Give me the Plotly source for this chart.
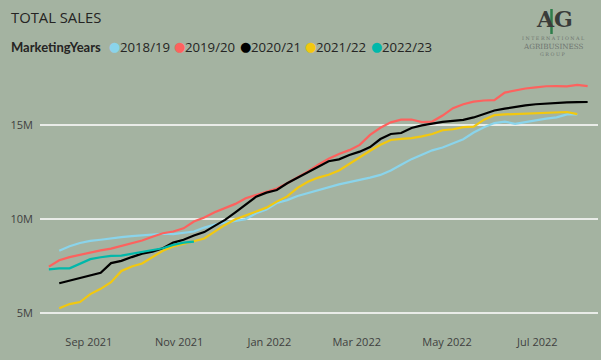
import pandas as pd
import plotly.graph_objects as go

# ---- data (values in millions) ----
week_dates = pd.date_range("2021-08-05", periods=53, freq="7D")

series_names = ["2018/19", "2019/20", "2020/21", "2021/22", "2022/23"]
series_colors = ["#8AD4EB", "#FD625E", "#000000", "#F2C80F", "#01B8AA"]

sales_2018_19 = [None, 8.31, 8.55, 8.72, 8.83, 8.89, 8.97, 9.03, 9.08, 9.12, 9.20, 9.21, 9.19, 9.25, 9.33,
                 9.54, 9.70, 9.80, 9.88, 9.98, 10.30, 10.50, 10.85, 11.00, 11.22, 11.38, 11.52, 11.68,
                 11.84, 11.96, 12.07, 12.20, 12.34, 12.58, 12.88, 13.18, 13.42, 13.65, 13.80, 14.02,
                 14.24, 14.60, 14.88, 15.10, 15.18, 15.06, 15.16, 15.28, 15.34, 15.40, 15.56, 15.56, None]
sales_2019_20 = [7.46, 7.80, 7.97, 8.10, 8.24, 8.33, 8.42, 8.55, 8.70, 8.85, 9.05, 9.24, 9.33, 9.50, 9.86,
                 10.08, 10.36, 10.57, 10.80, 11.10, 11.27, 11.45, 11.62, 11.90, 12.20, 12.53, 12.88, 13.20,
                 13.45, 13.66, 13.94, 14.47, 14.85, 15.14, 15.28, 15.29, 15.15, 15.18, 15.50, 15.89, 16.10,
                 16.24, 16.30, 16.32, 16.72, 16.84, 16.94, 17.00, 17.06, 17.07, 17.05, 17.13, 17.07]
sales_2020_21 = [None, 6.58, 6.72, 6.88, 7.00, 7.13, 7.65, 7.77, 7.97, 8.15, 8.26, 8.44, 8.74, 8.89, 9.12,
                 9.30, 9.63, 9.95, 10.35, 10.75, 11.18, 11.40, 11.54, 11.90, 12.20, 12.47, 12.78, 13.07,
                 13.17, 13.40, 13.58, 13.82, 14.25, 14.52, 14.57, 14.84, 14.98, 15.08, 15.16, 15.22, 15.27,
                 15.40, 15.58, 15.77, 15.87, 15.97, 16.04, 16.10, 16.14, 16.18, 16.20, 16.21, 16.22]
sales_2021_22 = [None, 5.25, 5.47, 5.58, 6.00, 6.28, 6.63, 7.23, 7.47, 7.63, 7.98, 8.31, 8.53, 8.67, 8.78,
                 8.96, 9.32, 9.68, 9.98, 10.19, 10.38, 10.60, 10.92, 11.20, 11.65, 11.98, 12.20, 12.35,
                 12.58, 12.94, 13.28, 13.63, 13.95, 14.20, 14.26, 14.30, 14.39, 14.52, 14.72, 14.77, 14.88,
                 14.91, 15.28, 15.52, 15.56, 15.58, 15.61, 15.62, 15.65, 15.68, 15.69, 15.58, None]
sales_2022_23 = [7.32, 7.37, 7.37, 7.60, 7.86, 7.96, 8.03, 8.05, 8.15, 8.28, 8.38, 8.44, 8.62, 8.74, 8.79]

all_series = [sales_2018_19, sales_2019_20, sales_2020_21, sales_2021_22, sales_2022_23]

BG = "#A4B3A1"
TEXT = "#252423"
AXIS_TEXT = "#3F3F3F"

fig = go.Figure()
for name, color, vals in zip(series_names, series_colors, all_series):
    fig.add_trace(go.Scatter(
        x=list(week_dates[:len(vals)]),
        y=[None if v is None else v * 1e6 for v in vals],
        mode="lines", name=name,
        line=dict(color=color, width=2.2),
        showlegend=False,
    ))

W, H = 601, 360
L, R, T, B = 40, 3, 68, 30
pw, ph = W - L - R, H - T - B

def px(x):
    return (x - L) / pw

def py(y):
    return (H - B - y) / ph

ann = []
ann.append(dict(text="TOTAL SALES", x=px(9), y=py(17), xref="paper", yref="paper",
                xanchor="left", yanchor="middle", showarrow=False,
                font=dict(family="Open Sans", size=14.8, color=TEXT)))
ann.append(dict(text="MarketingYears", x=px(9), y=py(47), xref="paper", yref="paper",
                xanchor="left", yanchor="middle", showarrow=False,
                font=dict(family="Lato", size=13, color=TEXT, weight=700)))
dot_x = [114, 179, 245, 310, 376]
for name, color, dx in zip(series_names, series_colors, dot_x):
    ann.append(dict(text="●", x=px(dx), y=py(47), xref="paper", yref="paper",
                    xanchor="center", yanchor="middle", showarrow=False, borderpad=0,
                    font=dict(family="DejaVu Sans", size=13, color=color)))
    ann.append(dict(text=name, x=px(dx + 5), y=py(47), xref="paper", yref="paper",
                    xanchor="left", yanchor="middle", showarrow=False, borderpad=0,
                    font=dict(family="Open Sans", size=13.2, color=TEXT)))

# logo as text
ann.append(dict(text="<b>AG</b>", x=px(554), y=py(19), xref="paper", yref="paper",
                xanchor="center", yanchor="middle", showarrow=False, borderpad=0,
                font=dict(family="DejaVu Serif", size=22, color="#3A3C3A")))
for txt, yy, sz in [("I N T E R N A T I O N A L", 38.5, 4.8), ("AGRIBUSINESS", 46.5, 7.2), ("G R O U P", 54.5, 4.8)]:
    ann.append(dict(text=txt, x=px(553), y=py(yy), xref="paper", yref="paper",
                    xanchor="center", yanchor="middle", showarrow=False, borderpad=0,
                    font=dict(family="DejaVu Serif", size=sz, color="#6E7470")))

shapes = [dict(type="line", xref="paper", yref="paper", x0=px(551.5), x1=px(551.5), y0=py(9), y1=py(34),
               line=dict(color="#2E7D4A", width=2.5))]

fig.update_layout(
    width=W, height=H,
    margin=dict(l=L, r=R, t=T, b=B),
    paper_bgcolor=BG, plot_bgcolor=BG,
    showlegend=False,
    annotations=ann,
    shapes=shapes,
    xaxis=dict(
        range=["2021-07-30", "2022-08-11"],
        tick0="2021-09-01", dtick="M2", tickformat="%b %Y",
        showgrid=False, zeroline=False, showline=False, ticks="",
        tickfont=dict(family="Open Sans", size=11, color=AXIS_TEXT),
        ticklabelstandoff=4,
    ),
    yaxis=dict(
        range=[4.09e6, 18.03e6],
        tickvals=[5e6, 10e6, 15e6], tickformat="~s",
        showgrid=True, gridcolor="#E9ECE8", gridwidth=1.5,
        zeroline=False, showline=False, ticks="",
        tickfont=dict(family="Open Sans", size=11, color=AXIS_TEXT),
        ticklabelstandoff=6,
    ),
)

fig.write_html("out.html", config={"displayModeBar": False},
               post_script="document.body.style.margin='0';document.body.style.background='" + BG + "';")
